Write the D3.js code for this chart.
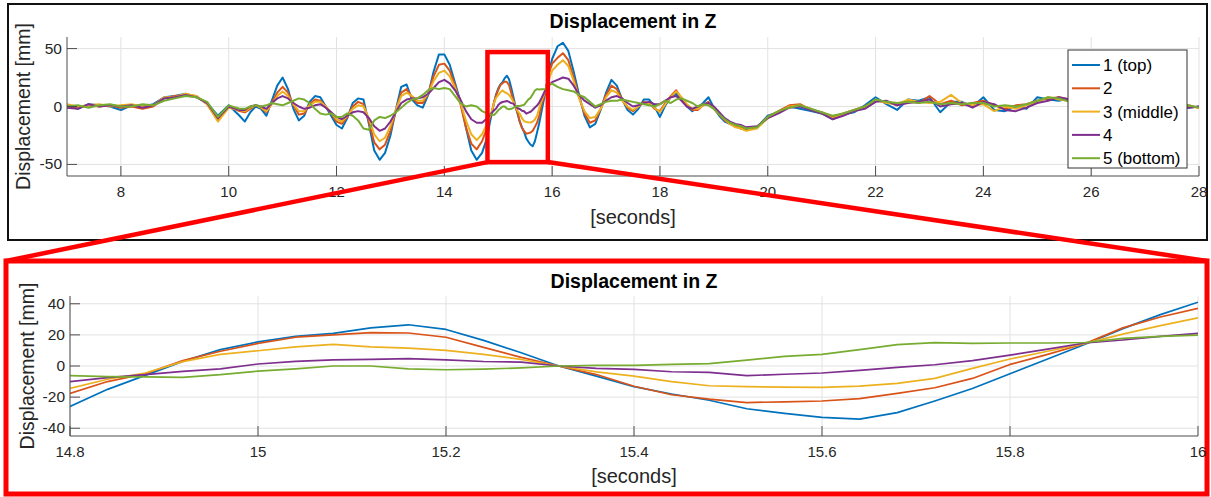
<!DOCTYPE html>
<html>
<head>
<meta charset="utf-8">
<script src="https://cdn.jsdelivr.net/npm/d3@7"></script>
<style>
body { margin: 0; background: #fff; }
text { font-family: "Liberation Sans", Arial, Helvetica, sans-serif; fill: #262626; }
</style>
</head>
<body>
<svg width="1211" height="497"></svg>
<script>
// sample times [s]: coarse where quiet, finer in the zoomed window
var timeA = [7.0, 7.2, 7.4, 7.6, 7.8, 8.0, 8.2, 8.4, 8.6, 8.8, 9.0, 9.2, 9.4, 9.6, 9.8, 10.0, 10.2];
var timeB = [10.3, 10.4, 10.5, 10.6, 10.7, 10.8, 10.9, 11.0, 11.1, 11.2, 11.3, 11.4, 11.5, 11.6, 11.7,
    11.8, 11.9, 12.0, 12.1, 12.2, 12.3, 12.4, 12.5, 12.6, 12.7, 12.8, 12.9, 13.0, 13.1, 13.2, 13.3, 13.4,
    13.5, 13.6, 13.7, 13.8, 13.9, 14.0, 14.1, 14.2, 14.3, 14.4, 14.5, 14.6, 14.7];
var timeC = [14.80, 14.84, 14.88, 14.92, 14.96, 15.00, 15.04, 15.08, 15.12, 15.16, 15.20, 15.24, 15.28,
    15.32, 15.36, 15.40, 15.44, 15.48, 15.52, 15.56, 15.60, 15.64, 15.68, 15.72, 15.76, 15.80, 15.84,
    15.88, 15.92, 15.96, 16.00];
var timeD = [16.1, 16.2, 16.3, 16.4, 16.5, 16.6, 16.7, 16.8, 16.9, 17.0, 17.1, 17.2, 17.3, 17.4, 17.5,
    17.6, 17.7, 17.8, 17.9, 18.0, 18.1, 18.2, 18.3, 18.4, 18.5, 18.6, 18.7, 18.8, 18.9, 19.0, 19.1, 19.2,
    19.3, 19.4, 19.5, 19.6];
var timeE = [19.8, 20.0, 20.2, 20.4, 20.6, 20.8, 21.0, 21.2, 21.4, 21.6, 21.8, 22.0, 22.2, 22.4, 22.6,
    22.8, 23.0, 23.2, 23.4, 23.6, 23.8, 24.0, 24.2, 24.4, 24.6, 24.8, 25.0, 25.2, 25.4, 25.6, 25.8, 26.0,
    26.2, 26.4, 26.6, 26.8, 27.0, 27.2, 27.4, 27.6, 27.8, 28.0];

// displacement [mm] per sensor, same order as the times above (A | B | C | D | E)
var dispTop = [1, -2, 2, 1, 0, -3, 1, 0, 2, 8, 9, 11, 8, 3, -8, 1, -8,
    -13, -5, 0, -2, -8, 5, 18, 25, 15, -2, -12, -8, 4, 9, 8, 0, -8, -16, -19, -10, 3, 7, 6, -15, -38, -46, -40, -25, -3, 17,
    19, 6, 1, -1, 10, 30, 45, 45, 36, 20, 4, -18, -38, -46, -40,
    -26, -15, -6, 3, 10.5, 15.5, 19, 21, 24.5, 26.5, 23.5, 16.5, 8.5, 0, -6.5, -13.3, -18, -22, -27.5, -30.5,
    -33, -34.2, -30, -22.5, -14.5, -5, 4.5, 14, 24, 33, 41,
    52, 55, 48, 30, 10, -8, -18, -15, -3, 12, 23, 18, 6, -3, -7, -2, 6, 6, 0, -9, 1, 8, 11, 6, 0, -4, -1, 3, 8, -1,
    -8, -13, -15, -17, -19, -20,
    -18, -8, -5, 0, -2, -4, -6, -11, -7, -5, 1, 8, 2, -3, 6, 5, 8, -5, 4, 4, 0, 8, -3, -4, 0, -2, 8, 6, 5, 7,
    3, 1, 0, -1, 2, 1, 0, -1, 1, 0, -1, 0];
var disp2 = [-1, -1, 1, 0, 1, -1, 0, -2, 0, 7, 9, 10, 9, 2, -12, 0, -4,
    -5, -2, 1, -1, -5, 3, 12, 17, 12, 1, -7, -6, 2, 6, 5, 0, -6, -13, -15, -9, 0, 4, 2, -13, -31, -37, -33, -21, -4, 12,
    15, 8, 3, 3, 11, 26, 36, 37, 31, 18, 2, -18, -32, -37, -30,
    -17.6, -10, -5, 3.5, 9.5, 14.5, 18.5, 20, 21.5, 21.2, 18.5, 12, 5.5, 0, -5.5, -13, -18.5, -21.3, -23.5, -23,
    -22.5, -21, -17.6, -14, -8, 1, 7.5, 14.5, 24.5, 31.5, 37,
    42, 46, 40, 25, 8, -6, -14, -12, -2, 10, 18, 15, 6, -1, -4, 0, 4, 3, -2, -4, 3, 9, 14, 7, 1, -3, -3, 1, 4, -2,
    -7, -12, -15, -17, -18, -19,
    -18, -9, -4, 1, 2, -3, -5, -9, -6, -3, 0, 5, 4, 1, 5, 3, 9, 2, 5, 1, 3, 5, 1, -2, 1, 2, 5, 7, 8, 6,
    3, 2, 1, 0, -1, 1, 2, 0, -1, 0, 1, -1];
var dispMiddle = [2, 0, 1, 2, 0, 1, 2, 0, 1, 8, 8, 11, 9, 2, -13, -1, -3,
    -4, -1, 1, -1, -4, 2, 9, 13, 9, 2, -4, -4, 1, 4, 4, 0, -5, -11, -13, -8, -2, 1, 0, -10, -24, -30, -27, -17, -3, 9,
    12, 9, 5, 5, 11, 22, 29, 31, 26, 16, 3, -12, -24, -29, -24,
    -14.4, -8.5, -4.5, 2.8, 7.5, 9.8, 12.3, 13.9, 12.3, 11.5, 10, 7.5, 4.2, 0, -3.8, -6.5, -10, -12.7, -13.3, -13.6,
    -13.8, -13, -11.2, -8, -1.5, 4.5, 9.5, 14.5, 20.5, 26, 31,
    36, 40, 35, 22, 7, -4, -10, -9, -2, 8, 14, 12, 5, 0, -3, 0, 3, 3, -1, -5, 2, 8, 13, 8, 2, -2, -2, 1, 3, -1,
    -6, -11, -15, -18, -19, -21,
    -19, -10, -5, 0, 1, -2, -6, -10, -7, -4, -1, 6, 3, 2, 6, 4, 3, 4, 10, 3, 1, 2, -4, 0, -2, 1, 4, 8, 6, 5,
    2, 1, 0, 1, 0, -1, 1, 0, 1, -1, 0, -1];
var disp4 = [-1, -2, 2, 0, 1, 0, 1, -1, 1, 7, 8, 10, 8, 3, -10, 0, -3,
    -3, 0, 1, 0, -2, 3, 7, 9, 7, 3, 0, -2, -1, 1, 2, -1, -5, -9, -11, -8, -5, -4, -5, -10, -17, -21, -19, -13, -5, 3,
    6, 7, 7, 8, 11, 16, 21, 23, 20, 14, 6, -4, -11, -14, -14,
    -10, -7.5, -5.5, -3.5, -1.8, 1.3, 3, 3.9, 4.3, 4.8, 4, 2.9, 2.5, 0, -1.5, -2.2, -3.7, -4.1, -6.2, -5.3,
    -4.5, -2.8, -0.9, 0.8, 3.4, 7, 10.8, 14.8, 16.7, 19, 21,
    23, 25, 24, 18, 10, 5, 2, -1, 1, 5, 8, 9, 7, 3, 0, 1, 3, 4, 2, 2, 5, 8, 9, 5, 0, -2, 0, 2, 3, 0,
    -5, -10, -13, -15, -16, -18,
    -17, -10, -6, -1, 0, -3, -6, -11, -8, -4, -2, 4, 5, 1, 3, 4, 6, 0, 2, 3, -1, 4, 2, -3, -4, -1, 3, 5, 8, 6,
    2, 0, 1, -1, 0, 1, 0, -1, 0, 1, -1, 0];
var dispBottom = [0, 1, -1, 1, 2, 0, 0, 2, 1, 5, 7, 9, 8, 4, -9, 1, -2,
    -2, 0, 1, 0, 1, 3, 2, 1, 3, 5, 7, 6, 3, -2, -6, -7, -6, -9, -9, -6, -8, -12, -19, -20, -12, -9, -10, -8, -5, -1,
    3, 6, 7, 10, 14, 16, 15, 16, 15, 9, 3, 0, 1, 0, -4,
    -6.2, -6.8, -7, -7.3, -5.6, -3.3, -1.8, 0, 0, -1.8, -2.4, -2, -1.2, 0, 0.4, 0.4, 1, 1.5, 3.8, 6.2,
    7.5, 10.5, 13.8, 15, 14.6, 14.8, 14.8, 15.1, 17.8, 19.1, 19.8,
    17, 15, 14, 13, 10, 8, 4, 0, 2, 4, 5, 5, 6, 5, 4, 3, 2, 1, 0, 2, 5, 3, 6, 7, 5, 3, 0, 2, 1, -2,
    -7, -11, -14, -16, -17, -19,
    -18, -9, -4, -1, 1, -2, -5, -8, -6, -3, 0, 6, 4, 3, 4, 3, 4, 2, 3, 2, 3, 3, 0, 1, 0, 2, 5, 8, 7, 4,
    2, 1, 0, 1, -1, 0, 1, 0, -1, 0, 1, -1];

var seriesNames = ["1 (top)", "2", "3 (middle)", "4", "5 (bottom)"];
var colors = ["#0072BD", "#D95319", "#EDB120", "#7E2F8E", "#77AC30"];

var topXTicks = [8, 10, 12, 14, 16, 18, 20, 22, 24, 26, 28];
var topYTicks = [-50, 0, 50];
var zoomXTicks = [14.8, 15, 15.2, 15.4, 15.6, 15.8, 16];
var zoomYTicks = [-40, -20, 0, 20, 40];
// highlighted window drawn on the overview [t0, t1, dMin, dMax]
var zoomBox = [14.8, 15.92, -48, 47];

var svg = d3.select("svg"),
    time = [].concat(timeA, timeB, timeC, timeD, timeE),
    allSeries = [dispTop, disp2, dispMiddle, disp4, dispBottom];

var font = '"Liberation Sans", Arial, Helvetica, sans-serif';

function drawPanel(cfg) {
    var x = d3.scaleLinear().domain(cfg.xDomain).range([cfg.left, cfg.right]),
        y = d3.scaleLinear().domain(cfg.yDomain).range([cfg.bottom, cfg.top]),
        g = svg.append("g");

    // grid
    g.append("g").selectAll("line").data(cfg.xTicks).join("line")
        .attr("x1", function (d) { return x(d); })
        .attr("x2", function (d) { return x(d); })
        .attr("y1", cfg.top).attr("y2", cfg.bottom)
        .attr("stroke", "#e2e2e2").attr("stroke-width", 1);
    g.append("g").selectAll("line").data(cfg.yTicks).join("line")
        .attr("x1", cfg.left).attr("x2", cfg.right)
        .attr("y1", function (d) { return y(d); })
        .attr("y2", function (d) { return y(d); })
        .attr("stroke", "#e2e2e2").attr("stroke-width", 1);

    var clipId = "clip" + cfg.id;
    g.append("clipPath").attr("id", clipId).append("rect")
        .attr("x", cfg.left).attr("y", cfg.top)
        .attr("width", cfg.right - cfg.left).attr("height", cfg.bottom - cfg.top);

    var line = d3.line()
        .defined(function (d) { return d[0] >= cfg.xDomain[0] - 1e-9 && d[0] <= cfg.xDomain[1] + 1e-9; })
        .x(function (d) { return x(d[0]); })
        .y(function (d) { return y(d[1]); });

    g.append("g").attr("clip-path", "url(#" + clipId + ")")
        .selectAll("path").data(allSeries).join("path")
        .attr("fill", "none")
        .attr("stroke", function (d, i) { return colors[i]; })
        .attr("stroke-width", cfg.lineWidth)
        .attr("stroke-linejoin", "round")
        .attr("d", function (s) {
            return line(time.map(function (t, j) { return [t, s[j]]; }));
        });

    // axes (MATLAB style: ticks pointing inward, box off)
    var ax = g.append("g").attr("stroke", "#4d4d4d").attr("stroke-width", 1);
    ax.append("line").attr("x1", cfg.left).attr("x2", cfg.right)
        .attr("y1", cfg.bottom).attr("y2", cfg.bottom);
    ax.append("line").attr("x1", cfg.left).attr("x2", cfg.left)
        .attr("y1", cfg.top).attr("y2", cfg.bottom);
    ax.selectAll(".xt").data(cfg.xTicks).join("line").attr("class", "xt")
        .attr("x1", function (d) { return x(d); })
        .attr("x2", function (d) { return x(d); })
        .attr("y1", cfg.bottom).attr("y2", cfg.bottom - 10);
    ax.selectAll(".yt").data(cfg.yTicks).join("line").attr("class", "yt")
        .attr("x1", cfg.left).attr("x2", cfg.left + 10)
        .attr("y1", function (d) { return y(d); })
        .attr("y2", function (d) { return y(d); });

    g.append("g").selectAll("text").data(cfg.xTicks).join("text")
        .attr("x", function (d) { return x(d); })
        .attr("y", cfg.bottom + 21)
        .attr("text-anchor", "middle")
        .style("font-size", "15px")
        .text(function (d) { return d; });
    g.append("g").selectAll("text").data(cfg.yTicks).join("text")
        .attr("x", cfg.left - 5)
        .attr("y", function (d) { return y(d) + 5; })
        .attr("text-anchor", "end")
        .style("font-size", "15.5px")
        .text(function (d) { return d; });

    g.append("text")
        .attr("x", (cfg.left + cfg.right) / 2)
        .attr("y", cfg.titleY)
        .attr("text-anchor", "middle")
        .style("font-size", "19.5px").style("font-weight", "bold").style("fill", "#000")
        .text("Displacement in Z");
    g.append("text")
        .attr("x", (cfg.left + cfg.right) / 2)
        .attr("y", cfg.xLabelY)
        .attr("text-anchor", "middle")
        .style("font-size", "20px")
        .text("[seconds]");
    g.append("text")
        .attr("transform", "translate(" + cfg.yLabelX + "," + ((cfg.top + cfg.bottom) / 2) + ") rotate(-90)")
        .attr("text-anchor", "middle")
        .style("font-size", "19.5px")
        .text("Displacement [mm]");

    return {x: x, y: y, g: g};
}

// overview panel frame
svg.append("rect").attr("x", 8).attr("y", 4).attr("width", 1199).attr("height", 236)
    .attr("fill", "#fff").attr("stroke", "#111").attr("stroke-width", 2);

var overview = drawPanel({
    id: "top", xDomain: [7, 28], yDomain: [-60, 60],
    left: 67, right: 1199, top: 37, bottom: 176,
    xTicks: topXTicks, yTicks: topYTicks, lineWidth: 2,
    titleY: 28, xLabelY: 224, yLabelX: 30
});

// legend
var legend = svg.append("g");
legend.append("rect").attr("x", 1068).attr("y", 50).attr("width", 119).attr("height", 118)
    .attr("fill", "#fff").attr("stroke", "#333").attr("stroke-width", 1);
var item = legend.selectAll("g.item").data(seriesNames).join("g").attr("class", "item")
    .attr("transform", function (d, i) { return "translate(1072," + (65 + i * 23.3) + ")"; });
item.append("line").attr("x1", 0).attr("x2", 28)
    .attr("stroke", function (d, i) { return colors[i]; }).attr("stroke-width", 2);
item.append("text").attr("x", 31).attr("y", 6)
    .style("font-size", "17px").style("fill", "#000")
    .text(function (d) { return d; });

// zoom panel frame
svg.append("rect").attr("x", 6).attr("y", 261).attr("width", 1201).attr("height", 233)
    .attr("fill", "#fff").attr("stroke", "#ff0000").attr("stroke-width", 5);

drawPanel({
    id: "zoom", xDomain: [14.8, 16], yDomain: [-45, 45],
    left: 70, right: 1198, top: 296, bottom: 436,
    xTicks: zoomXTicks, yTicks: zoomYTicks, lineWidth: 1.7,
    titleY: 288, xLabelY: 483, yLabelX: 34
});

// zoom window marker and connectors
var ox = overview.x, oy = overview.y, red = svg.append("g")
    .attr("stroke", "#ff0000").attr("stroke-width", 4.5).attr("fill", "none");
red.append("rect")
    .attr("x", ox(zoomBox[0])).attr("y", oy(zoomBox[3]))
    .attr("width", ox(zoomBox[1]) - ox(zoomBox[0]))
    .attr("height", oy(zoomBox[2]) - oy(zoomBox[3]));
red.append("line").attr("x1", ox(zoomBox[0])).attr("y1", oy(zoomBox[2]))
    .attr("x2", 6).attr("y2", 261);
red.append("line").attr("x1", ox(zoomBox[1])).attr("y1", oy(zoomBox[2]))
    .attr("x2", 1207).attr("y2", 261);
</script>
</body>
</html>
